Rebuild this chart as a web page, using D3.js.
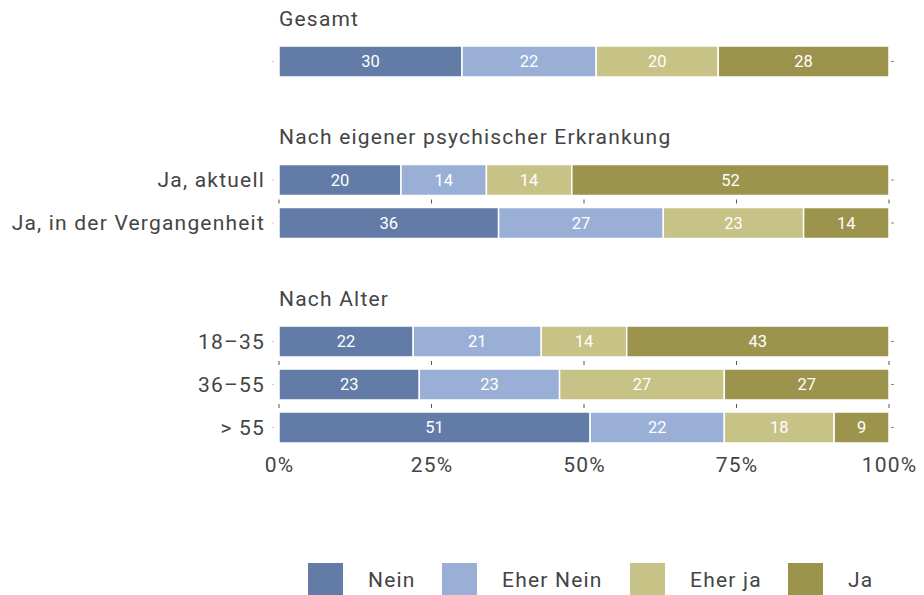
<!DOCTYPE html>
<html>
<head>
<meta charset="utf-8">
<script src="https://cdn.jsdelivr.net/npm/d3@7"></script>
<style>
  body { margin: 0; background: #fff; }
  svg text { font-family: Roboto, "Liberation Sans", sans-serif; }
  .big { font-size: 21px; letter-spacing: 1.2px; fill: #444; }
</style>
</head>
<body>
<div id="chart"></div>
<script>
// antwort-kategorien
const answers = ['Nein', 'Eher Nein', 'Eher ja', 'Ja'];
const colors = ['#637ca7', '#9aafd5', '#c7c286', '#9c934d'];

const groups = ['Gesamt', 'Nach eigener psychischer Erkrankung', 'Nach Alter'];
const rowLabels = ['', 'Ja, aktuell', 'Ja, in der Vergangenheit', '18–35', '36–55', '> 55'];
const rowGroup = [0, 1, 1, 2, 2, 2];

const nein     = [30, 20, 36, 22, 23, 51];
const eherNein = [22, 14, 27, 21, 23, 22];
const eherJa   = [20, 14, 23, 14, 27, 18];
const ja       = [28, 52, 14, 43, 27, 9];

const xTicks = [0, 25, 50, 75, 100];

const W = 924, H = 595;
const svg = d3.select('#chart').append('svg')
  .attr('width', W).attr('height', H);

let x = d3.scaleLinear().domain([0, 100]).range([279, 889]);
// slot = zeilen-einheit (43px), titel nimmt auch einen slot
let slot = d3.scaleLinear().domain([0, 1]).range([18.5, 61.5]);
const groupGap = 32.5;
const barH = 31;

let titleY = [], rowY = [];
let s = 0;
groups.forEach(function(g, gi) {
  titleY.push(slot(s) + gi * groupGap);
  s++;
  rowGroup.forEach(function(rg, ri) {
    if (rg === gi) { rowY[ri] = slot(s) + gi * groupGap; s++; }
  });
});

const rows = rowLabels.map(function(l, i) {
  const vals = [nein[i], eherNein[i], eherJa[i], ja[i]];
  let acc = 0;
  const segs = vals.map(function(v, k) {
    const seg = {x0: acc, x1: acc + v, v: v, k: k};
    acc += v;
    return seg;
  });
  // ticks nur wenn naechste zeile in derselben gruppe
  const hasNext = rowGroup[i + 1] === rowGroup[i];
  return {label: l, cy: rowY[i], segs: segs, ticks: hasNext ? xTicks : []};
});

// gruppen-titel
svg.selectAll('.gtitle')
  .data(groups)
  .enter().append('text')
  .attr('class', 'gtitle big')
  .attr('x', x(0))
  .attr('y', function(d, i) { return titleY[i]; })
  .attr('dy', '0.35em')
  .text(function(d) { return d; });

let rowG = svg.selectAll('.row')
  .data(rows)
  .enter().append('g')
  .attr('class', 'row')
  .attr('transform', function(d) { return 'translate(0,' + d.cy + ')'; });

rowG.append('text')
  .attr('class', 'big')
  .attr('x', 265)
  .attr('dy', '0.35em')
  .attr('text-anchor', 'end')
  .text(function(d) { return d.label; });

// kleine ticks links/rechts
rowG.append('line')
  .attr('x1', 272).attr('x2', 274)
  .attr('stroke', '#ccc');
rowG.append('line')
  .attr('x1', 891).attr('x2', 894)
  .attr('stroke', '#888');

rowG.selectAll('rect')
  .data(function(d) { return d.segs; })
  .enter().append('rect')
  .attr('x', function(d) { return x(d.x0); })
  .attr('y', -barH / 2)
  .attr('width', function(d) { return x(d.x1) - x(d.x0); })
  .attr('height', barH)
  .attr('fill', function(d) { return colors[d.k]; })
  .attr('stroke', '#fff')
  .attr('stroke-width', 1.5);

rowG.selectAll('.val')
  .data(function(d) { return d.segs; })
  .enter().append('text')
  .attr('class', 'val')
  .attr('x', function(d) { return (x(d.x0) + x(d.x1)) / 2; })
  .attr('dy', '0.36em')
  .attr('text-anchor', 'middle')
  .attr('fill', '#fff')
  .style('font-size', '16.5px')
  .text(function(d) { return d.v; });

// tick-striche zwischen balken
rowG.selectAll('.tk')
  .data(function(d) { return d.ticks; })
  .enter().append('line')
  .attr('class', 'tk')
  .attr('x1', function(d) { return x(d); })
  .attr('x2', function(d) { return x(d); })
  .attr('y1', barH / 2 + 4)
  .attr('y2', barH / 2 + 8)
  .attr('stroke', '#555');

// x-achse
const lastCy = rows[rows.length - 1].cy;
let xAxis = d3.axisBottom(x)
  .tickValues(xTicks)
  .tickSize(0)
  .tickPadding(0)
  .tickFormat(function(d) { return d + '%'; });
let xAxisGroup = svg.append('g')
  .attr('transform', 'translate(0,' + (lastCy + 30) + ')')
  .call(xAxis);
xAxisGroup.select('.domain').remove();
xAxisGroup.selectAll('text')
  .attr('class', 'big')
  .attr('fill', null)
  .style('font-family', 'Roboto, sans-serif');

// legende
const legendX = [308, 442, 630, 788];
let leg = svg.selectAll('.leg')
  .data(answers)
  .enter().append('g')
  .attr('class', 'leg')
  .attr('transform', function(d, i) { return 'translate(' + legendX[i] + ',563)'; });
leg.append('rect')
  .attr('width', 35).attr('height', 35)
  .attr('fill', function(d, i) { return colors[i]; });
leg.append('text')
  .attr('class', 'big')
  .attr('x', 60)
  .attr('y', 17)
  .attr('dy', '0.35em')
  .text(function(d) { return d; });
</script>
</body>
</html>
